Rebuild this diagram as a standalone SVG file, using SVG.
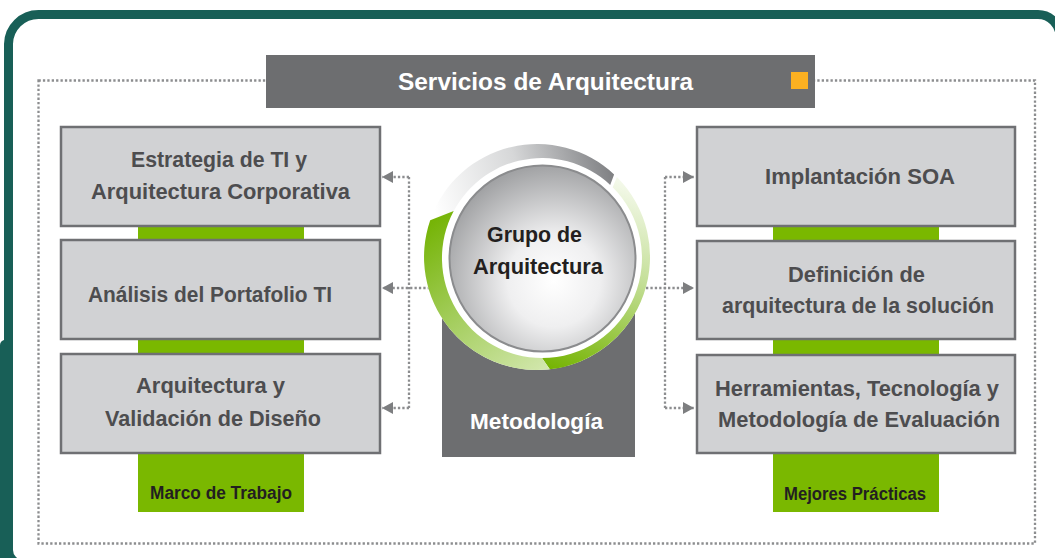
<svg xmlns="http://www.w3.org/2000/svg" width="1055" height="558" viewBox="0 0 1055 558">
<style>
.box{fill:#d1d2d4;stroke:#6f7073;stroke-width:2.5}
.btxt{font-family:"Liberation Sans",Arial,sans-serif;font-weight:bold;font-size:22px;fill:#4d4d4f}
.bar{fill:#7ab800}
.bartxt{font-family:"Liberation Sans",Arial,sans-serif;font-weight:bold;font-size:17.5px;fill:#231f20}
.dot{fill:none;stroke:#8c8d8f;stroke-width:2.3;stroke-dasharray:2.3 2.1}
.wtxt{font-family:"Liberation Sans",Arial,sans-serif;font-weight:bold;fill:#ffffff}
.ctxt{font-family:"Liberation Sans",Arial,sans-serif;font-weight:bold;font-size:22px;fill:#231f20}
</style>
<defs>
<marker id="arr" markerUnits="userSpaceOnUse" markerWidth="12" markerHeight="12" refX="11" refY="6" orient="auto">
<path d="M0 0 L11 6 L0 12 Z" fill="#7d7e80"/>
</marker>
<linearGradient id="gGray" gradientUnits="userSpaceOnUse" x1="440" y1="230" x2="615" y2="180">
<stop offset="0" stop-color="#ffffff"/>
<stop offset="0.5" stop-color="#d6d7d8"/>
<stop offset="1" stop-color="#7f8083"/>
</linearGradient>
<linearGradient id="gRight" gradientUnits="userSpaceOnUse" x1="615" y1="175" x2="550" y2="370">
<stop offset="0" stop-color="#f6faee"/>
<stop offset="0.45" stop-color="#c4df98"/>
<stop offset="1" stop-color="#74b300"/>
</linearGradient>
<linearGradient id="gLeft" gradientUnits="userSpaceOnUse" x1="545" y1="370" x2="430" y2="215">
<stop offset="0" stop-color="#d2e7ad"/>
<stop offset="0.5" stop-color="#a3cd5c"/>
<stop offset="1" stop-color="#72b200"/>
</linearGradient>
<radialGradient id="gBall" cx="0.56" cy="0.62" r="0.62">
<stop offset="0" stop-color="#ffffff"/>
<stop offset="0.4" stop-color="#efeff0"/>
<stop offset="1" stop-color="#a2a3a5"/>
</radialGradient>
</defs>

<g id="frame">
<path d="M13 340 H5 A5 5 0 0 0 0 345 V558 H13 Z" fill="#185f57"/>
<path d="M8.5 44 A30 30 0 0 1 38.5 14.5 H1038 A22 22 0 0 1 1060 36.5 V564 H22.5 A14 14 0 0 1 8.5 550 Z" fill="none" stroke="#185f57" stroke-width="9"/>
<rect x="38.5" y="80.5" width="996.5" height="463" class="dot"/>
</g>

<g id="title">
<rect x="266" y="55" width="549" height="53" fill="#6d6e70"/>
<rect x="791" y="72" width="17" height="17" fill="#fbb021"/>
<text x="398" y="90" class="wtxt" font-size="24" textLength="295" lengthAdjust="spacingAndGlyphs">Servicios de Arquitectura</text>
</g>

<g id="marco-de-trabajo">
<rect x="138" y="200" width="166" height="312" class="bar"/>
<text x="150" y="499" class="bartxt" textLength="142" lengthAdjust="spacingAndGlyphs">Marco de Trabajo</text>
</g>

<g id="mejores-practicas">
<rect x="773" y="200" width="166" height="312" class="bar"/>
<text x="784" y="500" class="bartxt" textLength="142" lengthAdjust="spacingAndGlyphs">Mejores Prácticas</text>
</g>

<g id="connectors">
<path class="dot" d="M409 177 V408"/>
<path class="dot" d="M409 177 H382" marker-end="url(#arr)"/>
<path class="dot" d="M430 288 H382" marker-end="url(#arr)"/>
<path class="dot" d="M409 408 H382" marker-end="url(#arr)"/>
<path class="dot" d="M665 177 V408"/>
<path class="dot" d="M665 177 H694" marker-end="url(#arr)"/>
<path class="dot" d="M646 288 H694" marker-end="url(#arr)"/>
<path class="dot" d="M665 408 H694" marker-end="url(#arr)"/>
</g>

<g id="estrategia">
<rect x="61" y="127" width="319" height="99" class="box"/>
<text x="131" y="167" class="btxt" textLength="176" lengthAdjust="spacingAndGlyphs">Estrategia de TI y</text>
<text x="91" y="199" class="btxt" textLength="259" lengthAdjust="spacingAndGlyphs">Arquitectura Corporativa</text>
</g>

<g id="analisis">
<rect x="61" y="240" width="319" height="99" class="box"/>
<text x="88" y="302" class="btxt" textLength="244" lengthAdjust="spacingAndGlyphs">Análisis del Portafolio TI</text>
</g>

<g id="arquitectura-validacion">
<rect x="61" y="354" width="319" height="99" class="box"/>
<text x="136" y="393" class="btxt" textLength="149" lengthAdjust="spacingAndGlyphs">Arquitectura y</text>
<text x="105" y="426" class="btxt" textLength="216" lengthAdjust="spacingAndGlyphs">Validación de Diseño</text>
</g>

<g id="implantacion">
<rect x="697" y="127" width="318" height="99" class="box"/>
<text x="765" y="184" class="btxt" textLength="190" lengthAdjust="spacingAndGlyphs">Implantación SOA</text>
</g>

<g id="definicion">
<rect x="697" y="241" width="318" height="98" class="box"/>
<text x="788" y="282" class="btxt" textLength="137" lengthAdjust="spacingAndGlyphs">Definición de</text>
<text x="722" y="313" class="btxt" textLength="272" lengthAdjust="spacingAndGlyphs">arquitectura de la solución</text>
</g>

<g id="herramientas">
<rect x="697" y="355" width="318" height="98" class="box"/>
<text x="715" y="396" class="btxt" textLength="284" lengthAdjust="spacingAndGlyphs">Herramientas, Tecnología y</text>
<text x="718" y="427" class="btxt" textLength="282" lengthAdjust="spacingAndGlyphs">Metodología de Evaluación</text>
</g>

<g id="metodologia">
<rect x="442" y="260" width="193" height="197" fill="#6d6e70"/>
<text x="470" y="429" class="wtxt" font-size="22.5" textLength="133" lengthAdjust="spacingAndGlyphs">Metodología</text>
</g>

<g id="grupo-de-arquitectura">
<circle cx="537" cy="257" r="113" fill="#ffffff"/>
<path d="M430.8 218.4 A113 113 0 0 1 614.1 174.4 L610.2 184.9 A100 100 0 0 0 448 223.8 Z" fill="url(#gGray)"/>
<path d="M616.9 177.1 A113 113 0 0 1 549.8 369.3 L542 358 A100 100 0 0 0 612.7 187.3 Z" fill="url(#gRight)"/>
<path d="M549.8 369.3 A113 113 0 0 1 430.2 220.2 L453.7 211 A100 100 0 0 0 542 358 Z" fill="url(#gLeft)"/>
<circle cx="542.5" cy="258.5" r="93" fill="url(#gBall)" stroke="#8b8c8e" stroke-width="2"/>
<text x="487" y="242" class="ctxt" textLength="95" lengthAdjust="spacingAndGlyphs">Grupo de</text>
<text x="473" y="274" class="ctxt" textLength="130" lengthAdjust="spacingAndGlyphs">Arquitectura</text>
</g>
</svg>
